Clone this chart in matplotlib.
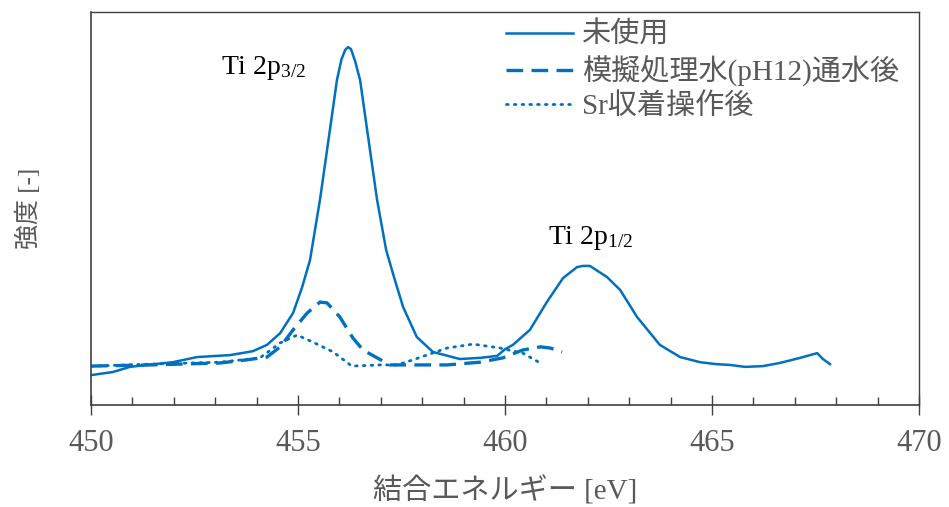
import matplotlib
matplotlib.use("Agg")
import matplotlib.pyplot as plt
from matplotlib.ticker import MultipleLocator

# Binding energy [eV] and intensity [-] (arbitrary units) for each sample
energy_unused = [450.00, 450.53, 450.94, 451.35, 451.98, 452.56, 453.36, 453.91, 454.25,
                 454.57, 454.88, 455.10, 455.29, 455.53, 455.77, 455.94, 456.05, 456.14,
                 456.21, 456.28, 456.38, 456.50, 456.67, 456.91, 457.13, 457.34, 457.54,
                 457.87, 458.26, 458.91, 459.40, 459.81, 460.00, 460.19, 460.60, 461.01,
                 461.40, 461.74, 461.88, 462.05, 462.46, 462.78, 463.19, 463.74, 464.23,
                 464.71, 465.10, 465.43, 465.80, 466.23, 466.64, 467.13, 467.54, 467.68,
                 467.85]
intensity_unused = [7.6, 8.4, 9.7, 10.2, 10.9, 12.2, 12.7, 13.7, 15.3,
                    18.3, 23.4, 30.0, 36.9, 52.2, 70.0, 82.7, 88.0, 90.4,
                    91.1, 90.6, 87.5, 82.7, 70.0, 52.2, 39.4, 31.8, 24.9,
                    17.3, 13.5, 11.7, 12.0, 12.5, 14.2, 15.3, 19.1, 26.2,
                    32.3, 35.1, 35.4, 35.4, 32.6, 29.3, 22.4, 15.3, 12.2,
                    10.9, 10.4, 10.2, 9.7, 9.9, 10.7, 12.0, 13.2, 11.7,
                    10.4]

energy_ph12 = [450.00, 451.43, 453.12, 453.77, 454.25, 454.57, 454.88, 455.22, 455.53,
               455.70, 456.01, 456.33, 456.57, 456.91, 457.22, 457.78, 458.60, 459.40,
               459.95, 460.43, 460.85, 461.09, 461.38]
intensity_ph12 = [9.9, 10.2, 10.7, 11.5, 12.2, 14.8, 19.1, 23.4, 26.2,
                  26.0, 22.4, 17.0, 14.0, 12.0, 10.2, 10.2, 10.2, 10.9,
                  12.0, 14.0, 14.8, 14.5, 13.5]

energy_sr = [450.00, 451.43, 453.12, 454.08, 454.57, 454.98, 455.36, 455.85, 456.30,
             456.98, 457.39, 457.78, 458.60, 459.23, 459.88, 460.43, 460.85]
intensity_sr = [9.9, 10.4, 10.9, 12.0, 15.8, 17.8, 16.0, 13.5, 9.9,
                10.2, 10.2, 11.5, 14.5, 15.5, 14.5, 13.2, 10.7]

series_labels = ["未使用", "模擬処理水(pH12)通水後", "Sr収着操作後"]
x_ticks = [450, 455, 460, 465, 470]

blue = "#0070C0"
gray = "#595959"
mixed_font = ["Liberation Serif", "Noto Sans CJK JP"]

plt.rcParams["font.family"] = mixed_font
plt.rcParams["mathtext.fontset"] = "custom"
plt.rcParams["mathtext.rm"] = "Liberation Serif"
plt.rcParams["mathtext.it"] = "Liberation Serif"
plt.rcParams["mathtext.default"] = "rm"

fig = plt.figure(figsize=(9.49, 5.07), dpi=100)
ax = fig.add_axes([0.0959, 0.2012, 0.8725, 0.7748])

ax.plot(energy_unused, intensity_unused, color=blue, lw=1.8, label=series_labels[0])
ax.plot(energy_ph12, intensity_ph12, color=blue, lw=2.4,
        linestyle=(0, (5, 2.5)), label=series_labels[1])
ax.plot(energy_sr, intensity_sr, color=blue, lw=2.0,
        linestyle=(0, (0.6, 2.2)), dash_capstyle="round", label=series_labels[2])

ax.set_xlim(450, 470)
ax.set_ylim(0, 100)
ax.set_xticks(x_ticks)
ax.set_xticklabels([str(v) for v in x_ticks], family="Liberation Serif")
ax.xaxis.set_minor_locator(MultipleLocator(1))
ax.set_yticks([])
ax.tick_params(axis="x", which="major", direction="inout", length=14, width=1.0,
               colors="#404040", labelcolor=gray, labelsize=22, pad=10)
ax.tick_params(axis="x", which="minor", direction="in", length=5.5, width=1.0,
               colors="#404040")

for side in ("left", "bottom"):
    ax.spines[side].set_color("#404040")
    ax.spines[side].set_linewidth(1.2)
for side in ("top", "right"):
    ax.spines[side].set_color("#404040")
    ax.spines[side].set_linewidth(1.0)

ax.set_xlabel("結合エネルギー [eV]", fontsize=21, color=gray, labelpad=13)
ax.set_ylabel("強度 [-]", fontsize=18, color=gray, labelpad=36)

ax.text(453.15, 85.8, r"Ti 2p$_{3/2}$", fontsize=20, color="black",
        ha="left", va="center")
ax.text(461.05, 42.6, r"Ti 2p$_{1/2}$", fontsize=20, color="black",
        ha="left", va="center")

leg = ax.legend(loc="upper right", frameon=False, handlelength=2.3, handletextpad=0.3,
                labelspacing=0.22, borderaxespad=0.0, bbox_to_anchor=(0.99, 1.005),
                prop={"size": 21})
for t in leg.get_texts():
    t.set_color(gray)

fig.savefig("out.png", dpi=100)
